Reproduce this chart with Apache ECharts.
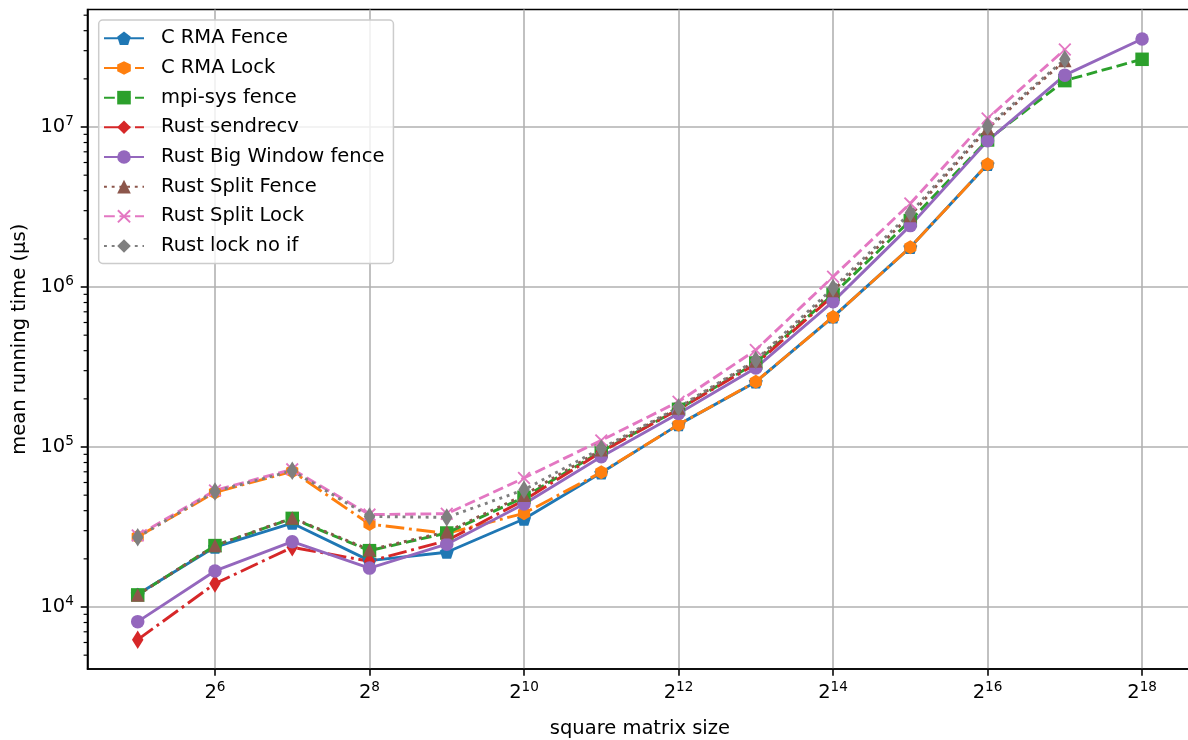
<!DOCTYPE html>
<html>
<head>
<meta charset="utf-8">
<script src="https://cdn.jsdelivr.net/npm/echarts@6/dist/echarts.min.js"></script>
<style>
html,body{margin:0;padding:0;background:#fff;}
#chart{width:1188px;height:740px;}
</style>
</head>
<body>
<div id="chart"></div>
<script>
// ---- data (x = log2 of square matrix size) ----
const sizeExponents = [5, 6, 7, 8, 9, 10, 11, 12, 13, 14, 15, 16, 17, 18];
const xTickExponents = [6, 8, 10, 12, 14, 16, 18];
const yTickValues = [1e4, 1e5, 1e6, 1e7];
const yMinorTicks = [5e3, 6e3, 7e3, 8e3, 9e3,
  2e4, 3e4, 4e4, 5e4, 6e4, 7e4, 8e4, 9e4,
  2e5, 3e5, 4e5, 5e5, 6e5, 7e5, 8e5, 9e5,
  2e6, 3e6, 4e6, 5e6, 6e6, 7e6, 8e6, 9e6,
  2e7, 3e7, 4e7, 5e7];

const seriesNames = ['C RMA Fence', 'C RMA Lock', 'mpi-sys fence', 'Rust sendrecv',
  'Rust Big Window fence', 'Rust Split Fence', 'Rust Split Lock', 'Rust lock no if'];

const cRmaFence = [12000, 23700, 33400, 19500, 22000, 35500, 69000, 138000, 255000, 650000, 1770000, 5850000];
const cRmaLock = [27500, 52000, 70500, 33000, 28800, 38500, 69500, 138000, 256000, 650000, 1770000, 5850000];
const mpiSysFence = [11900, 24200, 35800, 22500, 29000, 48500, 94000, 172000, 335000, 900000, 2600000, 8300000, 19500000, 26500000];
const rustSendrecv = [6250, 14000, 23600, 19300, 26000, 46500, 93000, 172000, 330000, 880000];
const rustBigWindowFence = [8100, 16800, 25600, 17500, 24700, 44000, 87000, 162000, 312000, 810000, 2420000, 8200000, 21100000, 35500000];
const rustSplitFence = [11900, 24200, 36000, 22800, 29500, 50000, 96000, 175000, 345000, 950000, 2800000, 9800000, 26000000];
const rustSplitLock = [28000, 53500, 72500, 37800, 38300, 64000, 110000, 192000, 404000, 1160000, 3330000, 11300000, 30500000];
const rustLockNoIf = [27300, 52800, 71000, 36800, 36300, 54000, 98000, 177000, 350000, 985000, 2900000, 10100000, 26500000];

// ---- styling ----
const FONT = 'DejaVu Sans';
const FS = 19.5, FS_SUP = 13.6;
const LW = 2.9;
const DASHED = [10.8, 4.7];
const DASHDOT = [18.7, 4.7, 2.9, 4.7];
const DOTTED = [2.9, 4.8];
const X_MIN = 4.35, X_MAX = 18.65;
const Y_MIN = Math.pow(10, 3.6125), Y_MAX = Math.pow(10, 7.7345);

const PENTAGON = 'path://M0,-1L0.951,-0.309L0.588,0.809L-0.588,0.809L-0.951,-0.309Z';
const HEXAGON = 'path://M0,-1L0.866,-0.5L0.866,0.5L0,1L-0.866,0.5L-0.866,-0.5Z';
const XMARK = 'path://M-1,-0.8L-0.8,-1L0,-0.2L0.8,-1L1,-0.8L0.2,0L1,0.8L0.8,1L0,0.2L-0.8,1L-1,0.8L-0.2,0Z';
const THIN_DIAMOND = 'path://M0,-1L0.62,0L0,1L-0.62,0Z';

function mk(name, vals, color, symbol, size, dash) {
  return {
    name: name,
    type: 'line',
    data: vals.map((v, i) => [sizeExponents[i], v]),
    symbol: symbol,
    symbolSize: size,
    symbolKeepAspect: true,
    showSymbol: true,
    showAllSymbol: true,
    lineStyle: { color: color, width: LW, type: dash, cap: 'butt', join: 'round' },
    itemStyle: { color: color, opacity: 1 },
    emphasis: { disabled: true },
    animation: false
  };
}

const supRich = {
  b: { fontFamily: FONT, fontSize: FS, color: '#000', lineHeight: 26 },
  s: { fontFamily: FONT, fontSize: FS_SUP, color: '#000', lineHeight: 16, verticalAlign: 'top' }
};

const chart = echarts.init(document.getElementById('chart'), null, { renderer: 'canvas' });

const series = [
  mk(seriesNames[0], cRmaFence, '#1f77b4', PENTAGON, 14, 'solid'),
  mk(seriesNames[1], cRmaLock, '#ff7f0e', HEXAGON, 14, DASHDOT),
  mk(seriesNames[2], mpiSysFence, '#2ca02c', 'rect', 13.5, DASHED),
  mk(seriesNames[3], rustSendrecv, '#d62728', THIN_DIAMOND, 18.5, DASHDOT),
  mk(seriesNames[4], rustBigWindowFence, '#9467bd', 'circle', 13.5, 'solid'),
  mk(seriesNames[5], rustSplitFence, '#8c564b', 'triangle', 13.5, DOTTED),
  mk(seriesNames[6], rustSplitLock, '#e377c2', XMARK, 13, DASHED),
  mk(seriesNames[7], rustLockNoIf, '#7f7f7f', THIN_DIAMOND, 18.5, DOTTED),
  {
    type: 'custom',
    name: 'minorTicks',
    silent: true,
    clip: false,
    animation: false,
    data: yMinorTicks.map(v => [X_MIN, v]),
    renderItem: function (params, api) {
      const p = api.coord([api.value(0), api.value(1)]);
      return {
        type: 'line',
        shape: { x1: p[0] - 3.9, y1: p[1], x2: p[0], y2: p[1] },
        style: { stroke: '#000', lineWidth: 1.17 }
      };
    }
  }
];

chart.setOption({
  animation: false,
  backgroundColor: '#ffffff',
  grid: {
    left: 87.5, top: 9.5, width: 1104.8, height: 659.5,
    outerBoundsMode: 'none', containLabel: false,
    show: true, borderColor: '#000', borderWidth: 1.56, backgroundColor: 'transparent'
  },
  legend: {
    orient: 'vertical',
    left: 98.7, top: 20,
    data: seriesNames,
    itemWidth: 40, itemHeight: 17, itemGap: 9.67,
    padding: [8.3, 9, 7.5, 4.3],
    backgroundColor: 'rgba(255,255,255,0.8)',
    borderColor: '#cccccc', borderWidth: 1.5, borderRadius: 4,
    selectedMode: false,
    formatter: function (n) { return '{g|}' + n; },
    textStyle: {
      fontFamily: FONT, fontSize: FS, color: '#000', lineHeight: 20,
      rich: { g: { width: 12, lineHeight: 20 } }
    }
  },
  xAxis: {
    type: 'value', min: X_MIN, max: X_MAX, splitNumber: 7,
    name: 'square matrix size', nameLocation: 'middle', nameGap: 50,
    nameTextStyle: { fontFamily: FONT, fontSize: FS, color: '#000' },
    axisLine: { show: true, onZero: false, lineStyle: { color: '#000', width: 1.56 } },
    axisTick: { show: true, inside: false, length: 6.8, customValues: xTickExponents, lineStyle: { color: '#000', width: 1.56 } },
    axisLabel: {
      customValues: xTickExponents, margin: 11,
      formatter: function (v) { return '{b|2}{s|' + v + '}'; },
      rich: supRich
    },
    splitLine: { show: true, lineStyle: { color: '#b0b0b0', width: 1.56 } }
  },
  yAxis: {
    type: 'log', logBase: 10, min: Y_MIN, max: Y_MAX,
    name: 'mean running time (μs)', nameLocation: 'middle', nameGap: 56,
    nameTextStyle: { fontFamily: FONT, fontSize: FS, color: '#000' },
    axisLine: { show: true, onZero: false, lineStyle: { color: '#000', width: 1.56 } },
    axisTick: { show: true, inside: false, length: 6.8, customValues: yTickValues, lineStyle: { color: '#000', width: 1.56 } },
    axisLabel: {
      customValues: yTickValues, margin: 13.6,
      formatter: function (v) { return '{b|10}{s|' + Math.round(Math.log10(v)) + '}'; },
      rich: supRich
    },
    splitLine: { show: true, lineStyle: { color: '#b0b0b0', width: 1.56 } }
  },
  series: series
});
</script>
</body>
</html>
